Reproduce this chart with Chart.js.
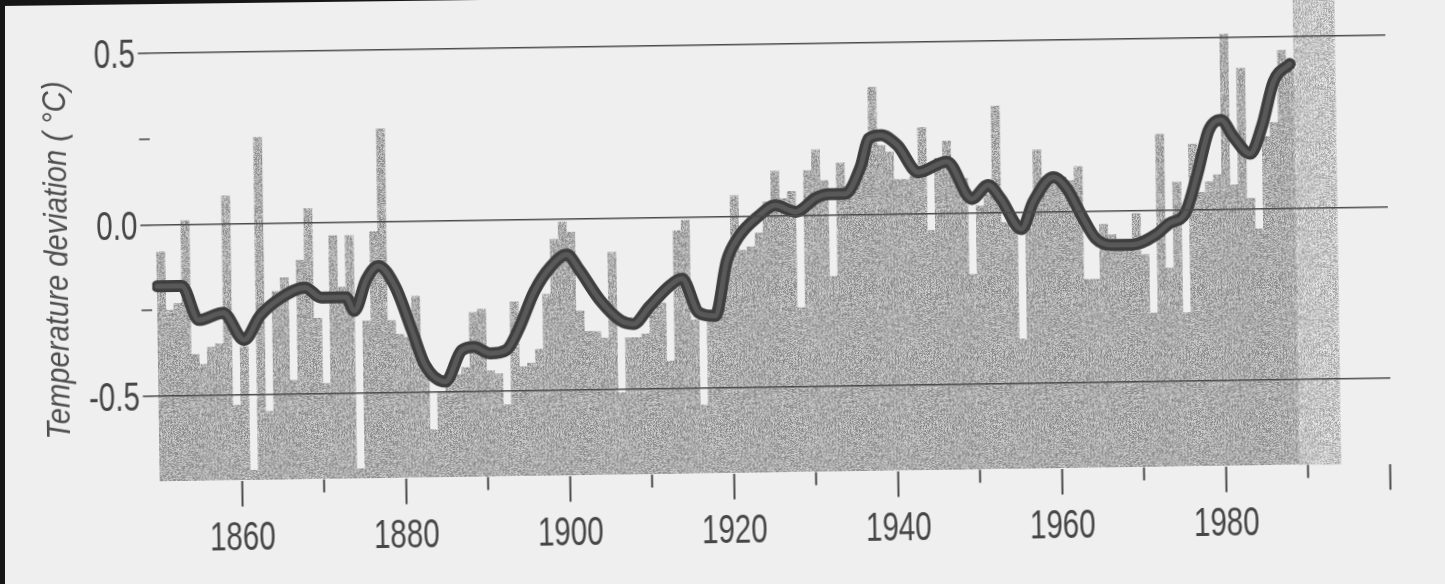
<!DOCTYPE html>
<html>
<head>
<meta charset="utf-8">
<title>Temperature deviation 1850–1988</title>
<script src="https://cdn.jsdelivr.net/npm/chart.js@4/dist/chart.umd.min.js"></script>
<style>
  html, body { margin: 0; padding: 0; background: #efefef; overflow: hidden; }
  #sheet { position: relative; width: 1445px; height: 584px; }
  #chart { position: absolute; left: 0; top: 0; transform: rotate(-0.84deg); transform-origin: 50% 50%; }
  .scan-edge { position: absolute; left: 0; top: 0; width: 5px; height: 584px; background: #161616; }
  .scan-top { position: absolute; left: 0; top: 0; width: 480px; height: 6px; background: #161616;
              clip-path: polygon(0 0, 100% 0, 0 100%); }
</style>
</head>
<body>
<div id="sheet">
  <canvas id="chart" width="1445" height="584"></canvas>
  <div class="scan-edge"></div>
  <div class="scan-top"></div>
</div>
<script>
// Annual temperature deviation (°C), one value per year from 1850 to 1988
const firstYear = 1850;
const anomalies = [
  -0.08, -0.25, -0.23,  0.01, -0.38, -0.41, -0.36, -0.35,  0.08, -0.53,  // 1850s
  -0.36, -0.72,  0.25, -0.55, -0.20, -0.16, -0.46, -0.11,  0.04, -0.28,  // 1860s
  -0.47, -0.04, -0.19, -0.04, -0.72, -0.29, -0.03,  0.27, -0.29, -0.33,  // 1870s
  -0.34, -0.22, -0.42, -0.61, -0.50, -0.48, -0.45, -0.43, -0.27, -0.26,  // 1880s
  -0.44, -0.45, -0.54, -0.24, -0.43, -0.42, -0.38, -0.22, -0.06, -0.01,  // 1890s
  -0.04, -0.27, -0.33, -0.33, -0.35, -0.10, -0.51, -0.35, -0.35, -0.34,  // 1900s
  -0.24, -0.25, -0.42, -0.04, -0.01, -0.30, -0.55, -0.30, -0.27, -0.14,  // 1910s
   0.06, -0.10, -0.09, -0.05,  0.04,  0.13,  0.05,  0.07, -0.27,  0.13,  // 1920s
   0.19,  0.10, -0.18,  0.15,  0.07,  0.12,  0.20,  0.37,  0.20,  0.18,  // 1930s
   0.10,  0.10,  0.11,  0.25, -0.05,  0.16,  0.21,  0.13,  0.10, -0.18,  // 1940s
   0.02,  0.07,  0.31, -0.03, -0.05, -0.37, -0.01,  0.18,  0.09,  0.10,  // 1950s
   0.10,  0.09,  0.13, -0.20, -0.20, -0.04, -0.07, -0.10, -0.10, -0.01,  // 1960s
  -0.13, -0.30,  0.22, -0.17,  0.08, -0.30,  0.19,  0.05,  0.08,  0.10,  // 1970s
   0.51,  0.07,  0.41,  0.03, -0.06,  0.21,  0.25,  0.46,  0.40          // 1980s
];
const years = anomalies.map((_, i) => firstYear + i);

// Smoothed curve through the annual series
const trendYears = [
  1850, 1853, 1855, 1858, 1860.5, 1862.5, 1865, 1868, 1870, 1873,
  1874, 1875.5, 1877, 1879, 1881, 1882.5, 1885, 1887, 1888.5, 1890.5,
  1892.5, 1894, 1896, 1898, 1900, 1901.5, 1904, 1906.5, 1908, 1910,
  1912.5, 1914, 1916, 1918, 1919.5, 1921, 1923.5, 1925.5, 1928, 1930.5,
  1932, 1934, 1936, 1937, 1938.5, 1940.5, 1943, 1946.5, 1949.5, 1951.5,
  1953, 1955.5, 1957, 1959.5, 1961, 1963, 1964.5, 1966.5, 1969, 1972,
  1973.5, 1975.5, 1977, 1978.5, 1980, 1981.5, 1983.5, 1985, 1986.5, 1988.5
];
const trendValues = [
  -0.18, -0.18, -0.28, -0.26, -0.34, -0.27, -0.22, -0.19, -0.22, -0.22,
  -0.26, -0.17, -0.13, -0.19, -0.32, -0.42, -0.47, -0.38, -0.37, -0.39,
  -0.38, -0.32, -0.21, -0.14, -0.105, -0.15, -0.24, -0.30, -0.31, -0.26,
  -0.20, -0.18, -0.28, -0.29, -0.13, -0.06, 0.00, 0.03, 0.01, 0.05,
   0.06, 0.06, 0.14, 0.22, 0.23, 0.20, 0.12, 0.15, 0.04, 0.08,
   0.04, -0.05, 0.03, 0.10, 0.07, -0.02, -0.08, -0.10, -0.10, -0.07,
  -0.04, -0.01, 0.10, 0.23, 0.26, 0.21, 0.16, 0.24, 0.37, 0.42
];

// Years covered by the light shaded band after the last annual bar
const shadedYears = [1989, 1990, 1991, 1992, 1993];

// Axis labelling
const xLabelYears = [1860, 1880, 1900, 1920, 1940, 1960, 1980];
const yTickValues = [0.5, 0.0, -0.5];
const yTickLabels = ['0.5', '0.0', '-0.5'];
const axisTitle = 'Temperature deviation ( °C)';

const baseValue = -0.75;          // bars rise from the bottom of the value axis
const inkGray = '#464646';
const gridGray = '#4a4a4a';
const labelFont = '40px "Liberation Sans", Arial, sans-serif';
const titleFont = 'italic 34px "Liberation Sans", Arial, sans-serif';
const condense = 0.74;            // narrow, condensed lettering

// Stippled print-like fill for the bars and the shaded band
function stipple(mean, spread, size, seed) {
  const c = document.createElement('canvas');
  c.width = c.height = size;
  const g = c.getContext('2d');
  const img = g.createImageData(size, size);
  let s = seed;
  for (let i = 0; i < size * size; i++) {
    s = (s * 1103515245 + 12345) & 0x7fffffff;
    const n = (s / 0x7fffffff - 0.5) * 2;
    const col = (i % size) % 3 === 0 ? -8 : 0;   // faint vertical grain
    const v = Math.max(0, Math.min(255, Math.round(mean + col + n * spread)));
    img.data[i * 4] = v; img.data[i * 4 + 1] = v; img.data[i * 4 + 2] = v; img.data[i * 4 + 3] = 255;
  }
  g.putImageData(img, 0, 0);
  return g.createPattern(c, 'repeat');
}
const canvas = document.getElementById('chart');
const ctx = canvas.getContext('2d');
const barFill = stipple(174, 40, 97, 7);
const bandFill = stipple(200, 40, 89, 11);

// Each annual bar fills its own year on the linear time axis
const barPoints = anomalies.map((v, i) => ({ x: years[i] + 0.5, y: v }));
const bandPoints = shadedYears.map(yr => ({ x: yr + 0.5, y: [baseValue, 0.8] }));
const trendPoints = trendYears.map((t, i) => ({ x: t, y: trendValues[i] }));

const near = (a, b) => Math.abs(a - b) < 1e-6;
const isLabelYear = v => near(v % 20, 0);

function condensedText(ctx, text, x, y, align) {
  ctx.save();
  ctx.translate(x, y);
  ctx.scale(condense, 1);
  ctx.textAlign = align;
  ctx.fillText(text, 0, 0);
  ctx.restore();
}

// Axis lettering, short marks for the unlabelled decades, and the rotated axis title
const axisExtras = {
  id: 'axisExtras',
  afterDraw(chart) {
    const { ctx, chartArea, scales: { x, y } } = chart;
    ctx.save();
    ctx.strokeStyle = gridGray;
    ctx.lineWidth = 2;
    x.ticks.forEach(t => {
      if (isLabelYear(t.value) || t.value <= firstYear) return;
      const px = x.getPixelForValue(t.value);
      ctx.beginPath();
      ctx.moveTo(px, chartArea.bottom);
      ctx.lineTo(px, chartArea.bottom + 13);
      ctx.stroke();
    });

    ctx.fillStyle = inkGray;
    ctx.font = labelFont;
    ctx.textBaseline = 'alphabetic';
    xLabelYears.forEach(yr => {
      condensedText(ctx, String(yr), x.getPixelForValue(yr), chartArea.bottom + 69, 'center');
    });
    yTickValues.forEach((v, i) => {
      condensedText(ctx, yTickLabels[i], chartArea.left - 14, y.getPixelForValue(v) + 14.3, 'right');
    });

    ctx.translate(59, y.getPixelForValue(-0.1));
    ctx.rotate(-Math.PI / 2);
    ctx.font = titleFont;
    ctx.fillStyle = '#4e4e4e';
    ctx.textAlign = 'center';
    ctx.textBaseline = 'middle';
    ctx.fillText(axisTitle, 0, 0, 358);
    ctx.restore();
  }
};

new Chart(ctx, {
  type: 'bar',
  data: {
    datasets: [
      {
        type: 'line', data: trendPoints, order: 1,
        borderColor: '#3e3e3e', borderWidth: 12, pointRadius: 0,
        cubicInterpolationMode: 'monotone', borderCapStyle: 'round', borderJoinStyle: 'round'
      },
      {
        type: 'line', data: trendPoints, order: 0,
        borderColor: '#595959', borderWidth: 5, pointRadius: 0,
        cubicInterpolationMode: 'monotone', borderCapStyle: 'round'
      },
      {
        data: barPoints, base: baseValue, order: 3, grouped: false,
        backgroundColor: barFill, borderWidth: 0,
        barPercentage: 1, categoryPercentage: 1
      },
      {
        data: bandPoints, order: 2, grouped: false,
        backgroundColor: bandFill, borderWidth: 0,
        barPercentage: 1, categoryPercentage: 1
      }
    ]
  },
  options: {
    responsive: false,
    animation: false,
    events: [],
    layout: { padding: { left: 0, right: 56, top: 0, bottom: 0 } },
    plugins: { legend: { display: false }, tooltip: { enabled: false } },
    scales: {
      x: {
        type: 'linear', min: 1849.4, max: 2000.2, offset: false,
        afterFit: s => { s.height = 110.5; s.paddingLeft = 0; s.paddingRight = 0; },
        border: { display: false },
        grid: {
          offset: false, drawOnChartArea: false, drawTicks: true, tickLength: 26, tickWidth: 2,
          tickColor: c => (c.tick && isLabelYear(c.tick.value) ? gridGray : 'rgba(0,0,0,0)')
        },
        ticks: { stepSize: 10, includeBounds: false, display: false }
      },
      y: {
        type: 'linear', min: baseValue, max: 0.631,
        afterFit: s => { s.width = 152.4; s.paddingTop = 0; s.paddingBottom = 0; },
        border: { display: false },
        grid: {
          z: 1, drawTicks: true, tickLength: 11, lineWidth: 1.6, tickWidth: 1.6,
          color: c => (c.tick && yTickValues.some(v => near(v, c.tick.value)) ? gridGray : 'rgba(0,0,0,0)'),
          tickColor: c => (c.tick && !near(c.tick.value, baseValue) ? gridGray : 'rgba(0,0,0,0)')
        },
        ticks: { stepSize: 0.25, includeBounds: false, display: false }
      }
    }
  },
  plugins: [axisExtras]
});
</script>
</body>
</html>
